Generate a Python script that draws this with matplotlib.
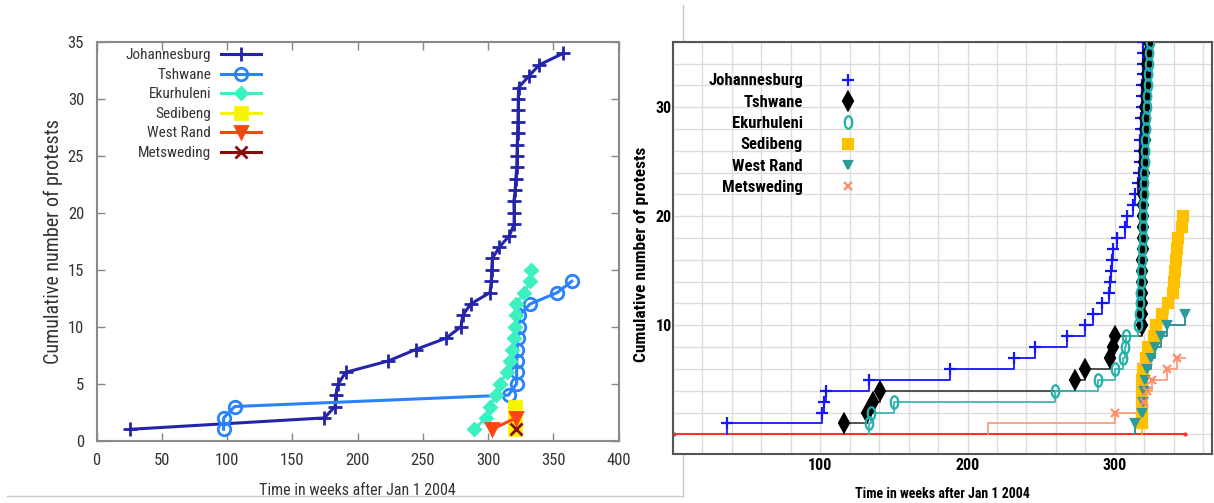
import matplotlib
matplotlib.use('Agg')
import matplotlib.pyplot as plt
from matplotlib.lines import Line2D
from matplotlib.path import Path
from matplotlib.transforms import Affine2D
from matplotlib import font_manager

# ---- data -------------------------------------------------------------
names = ['Johannesburg', 'Tshwane', 'Ekurhuleni', 'Sedibeng', 'West Rand', 'Metsweding']

# left panel: week of each protest, cumulative count
l_jhb_x = [26, 174.6, 182.8, 183.3, 185.3, 190.9, 223.6, 244.5, 267.8, 279.3, 280.6, 286.7,
           301.5, 302.5, 302.8, 303.3, 308.7, 316.4, 320, 320, 319.8, 320.8, 321.3, 322,
           322.2, 322.4, 322.6, 322.9, 323.1, 323.2, 323.4, 331.2, 339.4, 357.5]
l_jhb_y = [1, 2, 3, 4, 5, 6, 7, 8, 9, 10, 11, 12, 13, 14, 15, 16, 17, 18, 19, 20, 21, 22,
           23, 24, 25, 26, 27, 28, 29, 30, 31, 32, 33, 34]
l_tsh_x = [97.4, 97.4, 105.9, 315.7, 321.9, 321.9, 322, 322.3, 322.8, 323.5, 324, 332.2, 353.1, 364.2]
l_tsh_y = [1, 2, 3, 4, 5, 6, 7, 8, 9, 10, 11, 12, 13, 14]
l_eku_x = [289.3, 298.5, 301.8, 306, 309, 314.5, 316.5, 318.5, 320, 320.8, 321.3, 321.8, 327.5, 332.5, 332.8]
l_eku_y = [1, 2, 3, 4, 5, 6, 7, 8, 9, 10, 11, 12, 13, 14, 15]
l_sed_x = [321, 321, 321]
l_sed_y = [1, 2, 3]
l_wr_x = [303.1, 321.5]
l_wr_y = [1, 2]
l_met_x = [321.5]
l_met_y = [1]

# right panel: step curves
r_jhb_x = [36.8, 101.2, 102.4, 103.6, 133.2, 188, 231.8, 246, 267.6, 279.8, 285, 291.2, 295.8,
           297, 297.5, 298, 298.5, 301.2, 306.8, 308, 312, 313.6, 315.9, 316.5, 316.8, 317.1,
           317.4, 317.7, 318.0, 318.2, 318.4, 318.6, 318.8, 319.0, 319.2, 319.4, 319.6]
r_jhb_y = [1, 2, 3, 4, 5, 6, 7, 8, 9, 10, 11, 12, 13, 14, 15, 16, 17, 18, 19, 20, 21, 22, 23,
           24, 25, 26, 27, 28, 29, 30, 31, 32, 33, 34, 35, 36, 37]
r_tsh_x = [116.3, 131.8, 135.5, 140.3, 273, 279.8, 296.7, 298.4, 300.3, 318.1, 318.2, 318.3,
           318.4, 318.5, 318.6, 318.7, 318.8, 318.9, 319.0, 319.1, 319.2, 319.3, 319.4, 319.6,
           319.8, 320.0, 320.2, 320.4, 320.6, 320.8, 321.1, 321.4, 321.7, 322.1, 322.6, 323.1]
r_tsh_y = [1, 2, 3, 4, 5, 6, 7, 8, 9, 10, 11, 12, 13, 14, 15, 16, 17, 18, 19, 20, 21, 22, 23,
           24, 25, 26, 27, 28, 29, 30, 31, 32, 33, 34, 35, 36]
r_eku_x = [133.2, 134.4, 150, 259.5, 288.8, 300.1, 305.7, 306.6, 307.5, 316, 316.3, 317.0,
           317.3, 317.6, 317.9, 318.2, 318.5, 318.8, 319.0, 319.2, 319.4, 319.6, 319.8, 320.0,
           320.2, 320.4, 320.7, 321.0, 321.3, 321.6, 321.9, 322.2, 322.5, 322.9, 323.3, 323.8]
r_eku_y = [1, 2, 3, 4, 5, 6, 7, 8, 9, 10, 11, 12, 13, 14, 15, 16, 17, 18, 19, 20, 21, 22, 23,
           24, 25, 26, 27, 28, 29, 30, 31, 32, 33, 34, 35, 36]
r_sed_x = [318.1, 318.2, 318.3, 318.4, 318.6, 318.8, 321, 322.3, 326.3, 328, 332, 336.2, 339.2,
           340, 341, 341.6, 342.4, 343, 345.5, 346.6]
r_sed_y = [1, 2, 3, 4, 5, 6, 7, 8, 9, 10, 11, 12, 13, 14, 15, 16, 17, 18, 19, 20]
r_wr_x = [313.5, 318.5, 319, 319.5, 320.5, 322, 324.5, 327.5, 331, 335.5, 347.4]
r_wr_y = [1, 2, 3, 4, 5, 6, 7, 8, 9, 10, 11]
r_met_x = [213.6, 300.1, 319.5, 321.5, 324.9, 335.5, 342.2, 347.4]
r_met_y = [1, 2, 3, 4, 5, 6, 7, 7]
base_x = [0.5, 347.4]
base_y = [0, 0]

# ---- fonts --------------------------------------------------------------
have = {f.name for f in font_manager.fontManager.ttflist}
narrow = [f for f in ['Liberation Sans Narrow', 'Roboto Condensed', 'Arial Narrow', 'Roboto']
          if f in have] + ['DejaVu Sans']
plt.rcParams['font.family'] = narrow
plt.rcParams['font.stretch'] = 'condensed'

fig = plt.figure(figsize=(12.14, 5.03), dpi=100)

# frame of the left picture
fig.add_artist(Line2D([0.5626, 0.5626], [0.0139, 0.99], transform=fig.transFigure,
                      color='#c8c8c8', lw=1, zorder=-1))
fig.add_artist(Line2D([0.0058, 0.5626], [0.0139, 0.0139], transform=fig.transFigure,
                      color='#c8c8c8', lw=1, zorder=-1))

#左のグラフ-------------------------
ax1 = fig.add_axes([0.0795, 0.1239, 0.43, 0.7926])
l_cols = ['#2424a8', '#2b82ff', '#3cf0c0', '#f5f500', '#ff4411', '#8b0a0a']
l_mk = ['+', 'o', 'D', 's', 'v', 'x']
l_ms = [10, 9, 6, 9, 8, 8]
l_data = [(l_jhb_x, l_jhb_y), (l_tsh_x, l_tsh_y), (l_eku_x, l_eku_y),
          (l_sed_x, l_sed_y), (l_wr_x, l_wr_y), (l_met_x, l_met_y)]
for (x, y), c, m, s, n in zip(l_data, l_cols, l_mk, l_ms, names):
    fc = 'none' if m == 'o' else c
    ax1.plot(x, y, color=c, lw=2.2, marker=m, ms=s, mec=c, mfc=fc, mew=2, label=n)
ax1.set_xlim(0, 400)
ax1.set_ylim(0, 35)
ax1.set_xticks(range(0, 401, 50))
ax1.set_yticks(range(0, 36, 5))
ax1.tick_params(direction='in', length=6, width=1, color='#888888', top=True, right=True,
                labelsize=12, labelcolor='#333333', pad=9)
for sp in ax1.spines.values():
    sp.set_color('#8a8a8a')
    sp.set_linewidth(1.5)
ax1.set_xlabel('Time in weeks after Jan 1 2004', fontsize=11.5, color='#333333', labelpad=11)
ax1.set_ylabel('Cumulative number of protests', fontsize=14.5, color='#333333', labelpad=3)
leg1 = ax1.legend(loc='upper right', bbox_to_anchor=(0.315, 0.984), frameon=False,
                  markerfirst=False, fontsize=11, handlelength=2.6, handletextpad=0.65,
                  labelspacing=0.36, borderpad=0, borderaxespad=0)
for t in leg1.get_texts():
    t.set_color('#333333')

#右のグラフ-------------------------
ax2 = fig.add_axes([0.5544, 0.0974, 0.444, 0.8197])
oval = Path.unit_circle().transformed(Affine2D().scale(0.6, 1.0))
r_cols = ['#1515ff', '#000000', '#20b2aa', '#ffc000', '#2a9a9a', '#ff8c69']
r_line = ['#1515ff', '#444444', '#3cb8b0', '#ffc000', '#2a8a8a', '#ff9a7a']
r_mk = ['+', 'd', oval, 's', 'v', 'x']
r_ms = [9, 9, 9, 7, 6, 6]
r_data = [(r_jhb_x, r_jhb_y), (r_tsh_x, r_tsh_y), (r_eku_x, r_eku_y),
          (r_sed_x, r_sed_y), (r_wr_x, r_wr_y), (r_met_x, r_met_y)]
ax2.plot(base_x, base_y, color='#ff3030', lw=1.5, marker='.', ms=4, zorder=2)
order = [0, 2, 4, 5, 3, 1]
for i in order:
    x, y = r_data[i]
    xs = [x[0]] + list(x)
    ys = [0] + list(y)
    idx = list(range(1, len(xs)))
    if i == 5:
        idx = idx[1:-1]
    fc = 'none' if i == 2 else r_cols[i]
    ax2.step(xs, ys, where='post', color=r_line[i], lw=1.3, zorder=3 + i * 0.1)
    ax2.plot(xs, ys, ls='none', marker=r_mk[i], ms=r_ms[i], mec=r_cols[i], mfc=fc,
             mew=1.6, markevery=idx, zorder=3.5 + i * 0.1)
ax2.set_xlim(0, 366)
ax2.set_ylim(-1.8, 36)
ax2.set_xticks([100, 200, 300])
ax2.set_yticks([10, 20, 30])
ax2.set_xticks(range(0, 366, 20), minor=True)
ax2.set_yticks(range(0, 37, 2), minor=True)
ax2.grid(True, which='both', color='#dcdcdc', lw=1)
ax2.set_axisbelow(True)
ax2.tick_params(which='both', length=0, labelsize=11.5)
ax2.tick_params(axis='x', pad=3)
ax2.tick_params(axis='y', pad=1)
for t in ax2.get_xticklabels() + ax2.get_yticklabels():
    t.set_fontweight('bold')
for sp in ax2.spines.values():
    sp.set_color('#555555')
    sp.set_linewidth(1.5)
ax2.set_xlabel('Time in weeks after Jan 1 2004', fontsize=10, fontweight='bold', labelpad=10)
ax2.set_ylabel('Cumulative number of protests', fontsize=12.5, fontweight='bold')
ax2.yaxis.set_label_coords(-0.0445, 0.483)
handles = [Line2D([], [], ls='none', marker=r_mk[i], ms=r_ms[i], mec=r_cols[i],
                  mfc='none' if i == 2 else r_cols[i], mew=1.6) for i in range(6)]
leg2 = ax2.legend(handles, names, loc='upper right', bbox_to_anchor=(0.3557, 0.923),
                  frameon=False, markerfirst=False, handlelength=2, handletextpad=1.7,
                  labelspacing=0.38, borderpad=0, borderaxespad=0,
                  prop={'size': 12, 'weight': 'bold'})

fig.savefig('out.png', dpi=100)
